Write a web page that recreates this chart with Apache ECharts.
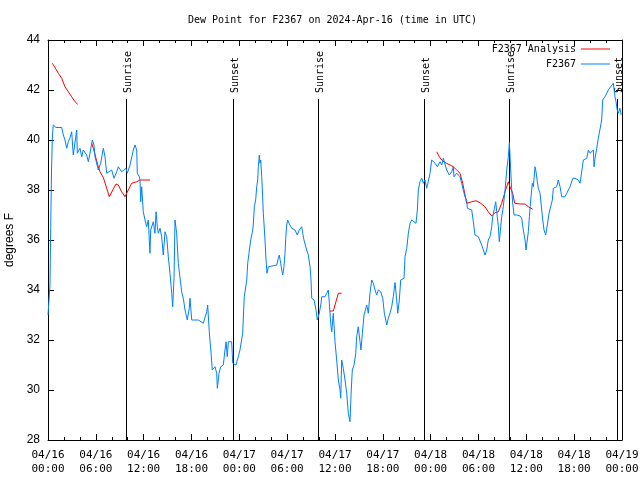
<!DOCTYPE html>
<html>
<head>
<meta charset="utf-8">
<script src="https://cdn.jsdelivr.net/npm/echarts@6/dist/echarts.min.js"></script>
<style>html,body{margin:0;padding:0;background:#fff}#c{width:640px;height:480px}</style>
</head>
<body>
<div id="c"></div>
<script>
// Hours since 2024-04-16 00:00 UTC
const stationTimes = [0.00,0.19,0.25,0.34,0.44,0.56,0.66,1.00,1.25,1.72,1.92,2.13,2.35,2.55,2.76,2.97,3.17,3.60,3.68,4.01,4.23,4.43,4.85,5.06,5.27,5.56,5.77,5.90,6.31,6.61,6.94,7.15,7.36,7.56,7.99,8.28,8.62,8.82,9.24,9.45,9.78,9.95,10.29,10.50,10.70,10.91,11.13,11.20,11.45,11.54,11.63,11.75,11.95,12.17,12.38,12.58,12.79,12.88,13.21,13.42,13.55,13.71,13.84,14.05,14.26,14.46,14.68,14.89,15.09,15.30,15.52,15.64,15.81,15.93,16.14,16.34,16.56,16.77,16.97,17.19,17.47,17.72,17.81,18.03,18.85,19.48,19.69,19.91,20.03,20.23,20.45,20.61,20.95,21.16,21.24,21.45,21.66,21.99,22.20,22.33,22.49,22.62,23.04,23.17,23.58,23.75,23.87,24.08,24.42,24.62,24.93,25.05,25.21,25.46,25.63,25.75,25.88,26.05,26.18,26.31,26.38,26.51,26.59,26.68,26.81,27.01,27.22,27.35,27.47,27.64,28.69,28.89,29.01,29.19,29.32,29.44,29.60,29.73,29.82,29.94,30.07,30.23,30.36,30.57,30.98,31.27,31.52,31.82,31.95,32.11,32.33,32.45,32.65,32.87,32.99,33.08,33.37,33.62,33.78,34.03,34.25,34.33,34.75,34.96,35.16,35.29,35.46,35.59,35.79,36.00,36.21,36.42,36.63,36.72,36.84,37.04,37.26,37.47,37.67,37.76,37.88,38.01,38.17,38.39,38.60,38.72,38.92,39.14,39.26,39.43,39.64,39.98,40.18,40.39,40.61,40.81,41.02,41.23,41.43,41.73,41.99,42.19,42.49,42.69,42.90,43.11,43.31,43.53,43.74,43.87,44.07,44.24,44.37,44.66,44.78,45.00,45.20,45.41,45.62,46.16,46.33,46.45,46.66,46.88,47.08,47.29,47.50,47.70,47.92,48.13,48.33,48.55,48.84,49.17,49.39,49.59,49.80,50.01,50.34,50.64,50.84,50.93,51.27,51.68,51.89,52.09,52.31,52.52,52.60,53.15,53.35,53.56,53.98,54.19,54.40,54.61,54.82,55.03,55.23,55.44,55.66,55.78,55.95,56.16,56.29,56.49,56.61,56.79,56.91,57.11,57.33,57.54,57.74,57.87,58.04,58.17,58.29,58.46,58.79,59.21,59.42,59.62,59.84,59.96,60.12,60.25,60.38,60.55,60.75,60.88,61.09,61.22,61.38,61.50,61.72,61.93,62.06,62.22,62.43,62.63,62.85,63.06,63.26,63.39,63.81,64.01,64.23,64.44,64.85,65.07,65.27,65.48,65.82,66.11,66.52,66.74,66.95,67.15,67.58,67.78,67.99,68.20,68.41,68.49,68.62,68.83,69.03,69.24,69.45,69.58,69.74,69.99,70.28,70.58,70.91,71.12,71.25,71.40,71.53,71.74,71.83,71.90];
const stationDewPoint = [33.0,33.0,34.2,36.5,38.8,40.2,40.6,40.5,40.55,40.5,40.2,40.0,39.67,39.93,40.1,40.33,39.4,40.4,39.47,39.67,39.33,39.6,39.4,39.13,39.47,40.0,39.8,39.33,38.8,39.07,39.67,39.33,38.67,38.6,38.8,38.47,38.73,38.93,38.73,38.8,38.87,38.67,39.0,38.93,39.6,39.8,39.6,38.67,38.53,38.4,37.53,38.13,37.13,36.8,36.53,36.8,35.47,36.4,36.73,36.27,37.13,36.53,36.27,36.47,36.13,35.4,36.33,36.13,35.33,34.67,33.87,33.33,34.5,36.8,36.27,35.07,35.07,33.93,33.67,33.2,32.8,33.27,33.67,32.8,32.8,32.67,32.6,33.13,33.4,32.33,31.47,30.8,30.93,30.67,30.07,30.67,30.93,31.0,31.6,31.93,31.33,31.93,31.93,31.07,31.0,30.93,31.33,31.6,32.27,33.73,34.4,35.07,35.47,36.07,36.3,36.6,37.33,37.6,38.13,38.4,38.93,39.4,39.07,39.2,38.53,37.07,36.0,35.2,34.67,34.93,35.0,35.27,35.4,35.07,34.8,34.6,34.93,35.47,36.07,36.6,36.8,36.67,36.73,36.47,36.4,36.2,36.4,36.53,36.27,36.0,35.93,35.6,35.4,34.93,34.4,33.67,33.6,33.2,32.8,33.07,33.47,33.73,33.73,33.87,34.0,33.47,32.67,32.33,33.07,31.93,31.2,30.4,30.0,29.67,31.2,30.87,30.4,29.87,29.07,29.0,28.73,29.8,30.8,31.0,31.47,32.13,32.53,32.53,31.6,32.27,33.0,33.4,33.07,33.87,34.4,34.27,34.0,33.8,34.0,33.93,33.67,33.07,32.6,32.87,33.07,33.33,33.73,34.3,33.6,33.07,33.6,34.4,34.47,34.47,35.33,35.67,36.27,36.67,36.8,36.67,37.2,38.0,38.33,38.47,38.27,38.4,38.07,38.33,38.67,39.2,39.2,39.07,38.93,39.13,39.0,39.27,39.27,38.8,38.6,38.73,38.93,38.53,38.67,38.53,38.27,38.0,37.73,37.6,37.27,37.2,36.73,36.2,36.13,36.07,35.8,35.6,35.4,35.6,36.0,36.13,36.53,36.93,37.0,37.53,37.13,36.53,35.93,36.53,36.93,37.33,38.0,38.8,39.33,39.9,38.8,38.0,37.47,37.0,37.0,36.96,36.87,36.4,36.0,35.6,36.0,36.33,36.93,37.6,38.27,38.13,38.93,38.73,38.33,38.07,37.87,37.2,36.8,36.4,36.2,36.6,37.07,37.13,37.6,38.07,38.13,38.4,38.13,37.73,37.73,37.87,38.0,38.13,38.47,38.47,38.4,38.27,38.2,39.2,39.27,39.6,39.47,39.4,39.6,38.93,39.27,39.67,40.07,40.13,40.8,41.6,41.67,41.8,42.0,42.13,42.27,41.73,41.53,41.2,41.07,41.27,41.2,41.0];

const analysisTimes = [0.54,0.88,1.29,1.72,2.13,2.55,2.97,3.39,3.73,4.5,5.48,5.68,6.02,6.31,6.52,6.94,7.36,7.69,8.12,8.53,8.82,9.24,9.66,10.07,10.50,11.13,11.54,12.79,20.0,35.37,35.79,36.00,36.42,36.84,45.0,48.76,49.09,49.39,49.80,50.43,50.84,51.27,51.68,52.02,52.31,52.52,53.15,53.69,54.19,54.82,55.23,55.66,56.07,56.49,56.91,57.33,57.74,57.95,58.29,58.54,59.21,59.84,60.25,60.80];
const analysisDewPoint = [43.07,42.9,42.67,42.47,42.13,41.93,41.73,41.53,41.43,null,39.87,39.67,39.27,38.93,38.73,38.5,38.07,37.73,38.0,38.24,38.2,37.93,37.73,38.0,38.27,38.33,38.4,38.4,null,33.16,33.16,33.4,33.87,33.87,null,39.53,39.33,39.2,39.1,39.0,38.93,38.8,38.67,38.27,37.8,37.47,37.53,37.57,37.49,37.33,37.13,36.96,37.09,37.13,37.47,37.93,38.33,38.13,37.87,37.47,37.44,37.44,37.33,37.23];

const sunTimes = [9.78, 23.24, 33.90, 47.16, 57.86, 71.33];
const sunLabels = ['Sunrise', 'Sunset', 'Sunrise', 'Sunset', 'Sunrise', 'Sunset'];

const dayLabels = ['04/16', '04/17', '04/18', '04/19'];
const yTicks = [28, 30, 32, 34, 36, 38, 40, 42, 44];

const MONO = '"DejaVu Sans Mono", monospace';
const SANS = '"Liberation Sans", Arial, sans-serif';

function pairs(ts, vs) {
  return ts.map((t, i) => [t, vs[i] === null ? '-' : vs[i]]);
}
function fmtX(h) {
  const d = Math.floor(Math.round(h) / 24);
  const hh = Math.round(h) % 24;
  return dayLabels[d] + '\n' + String(hh).padStart(2, '0') + ':00';
}

const chart = echarts.init(document.getElementById('c'), null, {renderer: 'canvas'});
const xBase = {
  type: 'value', min: 0, max: 72, interval: 6,
  axisLine: {show: true, onZero: false, lineStyle: {color: '#000', width: 1}},
  axisTick: {show: true, inside: true, length: 6, lineStyle: {color: '#000'}},
  minorTick: {show: true, splitNumber: 3, length: 3, lineStyle: {color: '#000'}},
  splitLine: {show: false}
};
const yBase = {
  type: 'value', min: yTicks[0], max: yTicks[yTicks.length - 1], interval: 2,
  axisLine: {show: true, onZero: false, lineStyle: {color: '#000', width: 1}},
  axisTick: {show: true, inside: true, length: 6, lineStyle: {color: '#000'}},
  splitLine: {show: false}
};
const legendText = {fontFamily: MONO, fontSize: 10, color: '#000'};

chart.setOption({
  animation: false,
  backgroundColor: '#fff',
  title: {
    text: 'Dew Point for F2367 on 2024-Apr-16 (time in UTC)',
    left: 188, top: 15, padding: 0,
    textStyle: {fontFamily: MONO, fontSize: 10, fontWeight: 'normal', color: '#000'}
  },
  legend: [
    {data: ['F2367 Analysis'], right: 30, top: 44, padding: 0, align: 'right', itemWidth: 29, itemHeight: 1,
     icon: 'rect', textStyle: legendText},
    {data: ['F2367'], right: 30, top: 59, padding: 0, align: 'right', itemWidth: 29, itemHeight: 1,
     icon: 'rect', textStyle: legendText}
  ],
  grid: {left: 48, right: 18, top: 40, bottom: 40, containLabel: false, outerBoundsMode: 'none'},
  xAxis: [
    Object.assign({}, xBase, {position: 'bottom',
      axisLabel: {show: true, margin: 8, lineHeight: 14, fontFamily: MONO, fontSize: 11, color: '#000', formatter: fmtX,
                  showMinLabel: true, showMaxLabel: true, hideOverlap: false}}),
    Object.assign({}, xBase, {position: 'top', axisLabel: {show: false}})
  ],
  yAxis: [
    Object.assign({}, yBase, {position: 'left',
      name: 'degrees F', nameLocation: 'middle', nameGap: 31, nameRotate: 90,
      nameTextStyle: {fontFamily: SANS, fontSize: 12, color: '#000'},
      axisLabel: {show: true, margin: 8, fontFamily: SANS, fontSize: 12, color: '#000'}}),
    Object.assign({}, yBase, {position: 'right', axisLabel: {show: false}})
  ],
  series: [
    {
      name: 'F2367 Analysis', type: 'line', xAxisIndex: 0, yAxisIndex: 0,
      data: pairs(analysisTimes, analysisDewPoint), showSymbol: false, connectNulls: false,
      lineStyle: {color: '#ff0000', width: 1}, itemStyle: {color: '#ff0000'}, z: 3
    },
    {
      name: 'F2367', type: 'line', xAxisIndex: 0, yAxisIndex: 0,
      data: pairs(stationTimes, stationDewPoint), showSymbol: false,
      lineStyle: {color: '#0080ff', width: 1}, itemStyle: {color: '#0080ff'}, z: 4
    },
    {
      name: 'sun', type: 'custom', xAxisIndex: 0, yAxisIndex: 0, z: 2, silent: true,
      data: sunTimes.map(t => [t, 28]),
      renderItem: function (params, api) {
        const t = api.value(0);
        const p0 = api.coord([t, 28]);
        const p1 = api.coord([t, 41.64]);
        const pt = api.coord([t, 41.88]);
        const x = Math.round(p0[0]) + 0.5;
        return {
          type: 'group',
          children: [
            {type: 'line', shape: {x1: x, y1: p0[1], x2: x, y2: p1[1]},
             style: {stroke: '#000', lineWidth: 1}},
            {type: 'text', x: x + 1.5, y: pt[1], rotation: Math.PI / 2,
             style: {text: sunLabels[params.dataIndex], textAlign: 'left', textVerticalAlign: 'middle',
                     font: '10px ' + MONO, fill: '#000'}}
          ]
        };
      }
    }
  ]
});
</script>
</body>
</html>
